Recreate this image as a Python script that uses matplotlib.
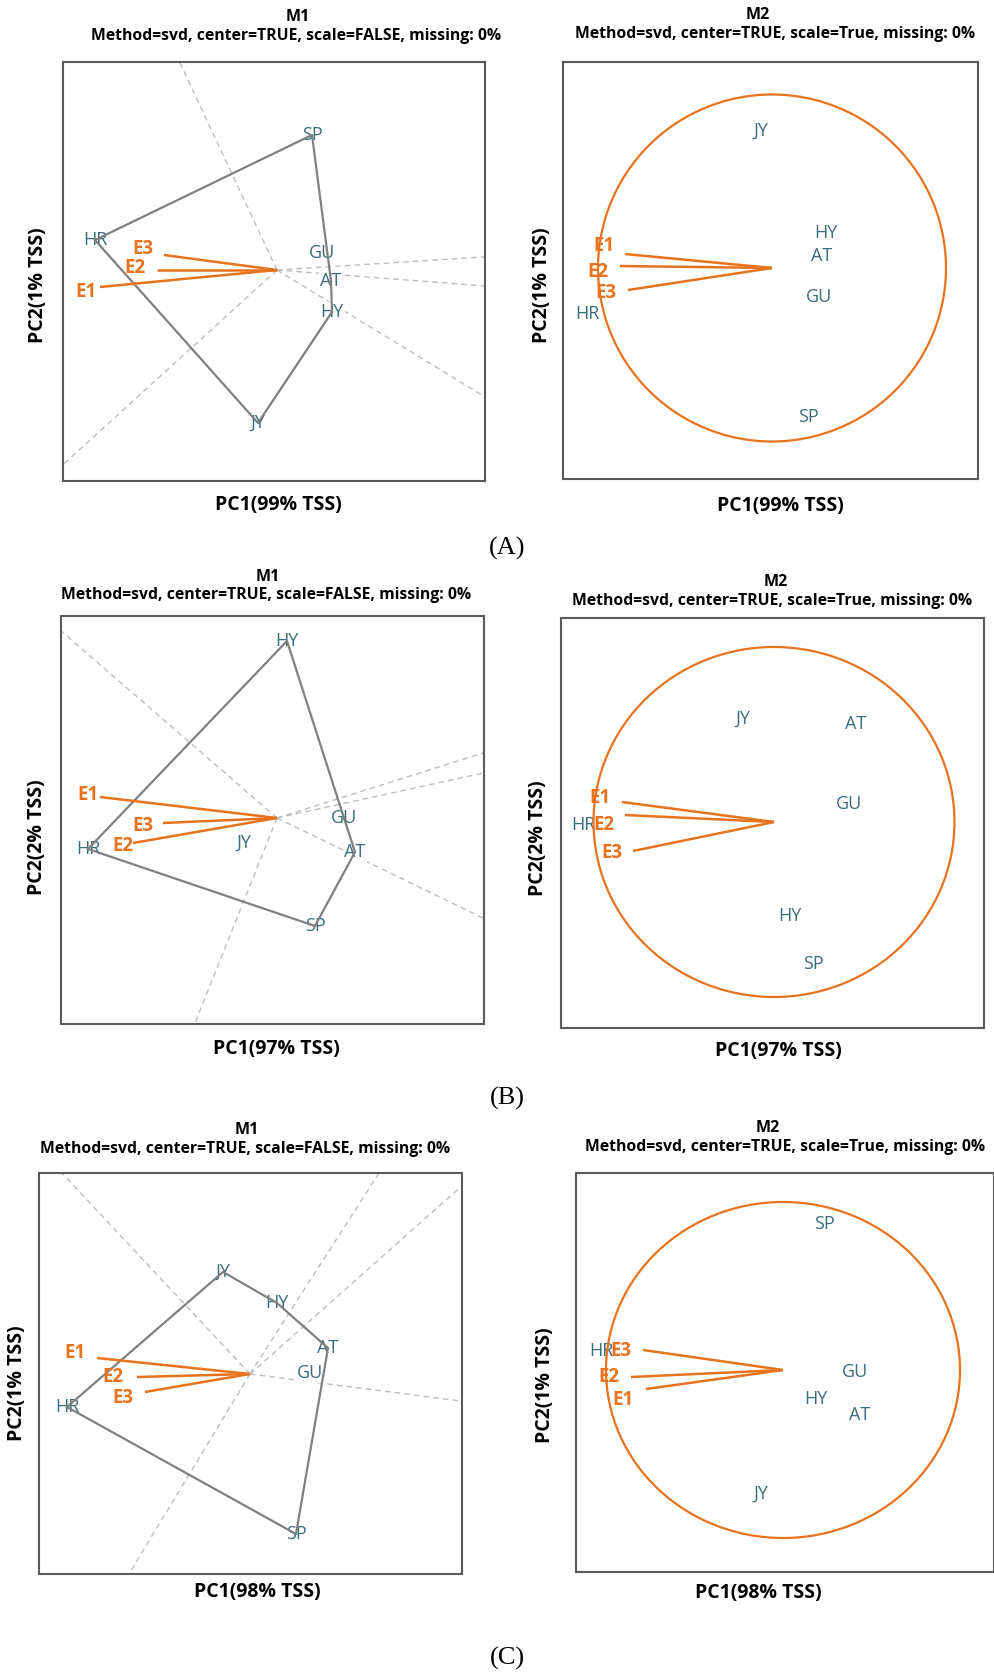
import numpy as np
import matplotlib
matplotlib.use("Agg")
import matplotlib.pyplot as plt
from matplotlib.patches import Ellipse

plt.rcParams['font.family'] = ['Open Sans', 'DejaVu Sans']

# ---------------- data (biplot scores) ----------------
genotypes = ["AT", "GU", "HR", "HY", "JY", "SP"]
environments = ["E1", "E2", "E3"]

# Row A
A1_gen_x = [0.54, 0.45, -1.82, 0.55, -0.19, 0.35]
A1_gen_y = [-0.11, 0.17, 0.30, -0.42, -1.53, 1.35]
A1_env_x = [-1.77, -1.20, -1.13]
A1_env_y = [-0.17, 0.00, 0.15]
A1_envlab_x = [-1.91, -1.42, -1.34]
A1_envlab_y = [-0.22, 0.02, 0.21]
A1_hull = ["HR", "SP", "AT", "HY", "JY"]
A1_rays = [115.1, 222.3, 3.6, -4.4, -31.4]

A2_gen_x = [0.50, 0.47, -1.85, 0.54, -0.11, 0.36]
A2_gen_y = [0.12, -0.29, -0.46, 0.35, 1.37, -1.49]
A2_env_x = [-1.47, -1.52, -1.44]
A2_env_y = [0.14, 0.02, -0.22]
A2_envlab_x = [-1.68, -1.74, -1.66]
A2_envlab_y = [0.22, -0.04, -0.25]
A2_circle = (3.48, 3.47)

# Row B
B1_gen_x = [0.78, 0.67, -1.89, 0.10, -0.33, 0.38]
B1_gen_y = [-0.34, 0.00, -0.31, 1.77, -0.25, -1.08]
B1_env_x = [-1.77, -1.44, -1.14]
B1_env_y = [0.21, -0.25, -0.05]
B1_envlab_x = [-1.89, -1.54, -1.34]
B1_envlab_y = [0.23, -0.28, -0.08]
B1_hull = ["HR", "HY", "GU", "AT", "SP"]
B1_rays = [139.1, -25.9, 17.5, 12.3, -111.8]

B2_gen_x = [0.82, 0.75, -1.91, 0.16, -0.31, 0.39]
B2_gen_y = [0.98, 0.18, -0.03, -0.94, 1.03, -1.42]
B2_env_x = [-1.52, -1.49, -1.41]
B2_env_y = [0.20, 0.07, -0.29]
B2_envlab_x = [-1.74, -1.70, -1.62]
B2_envlab_y = [0.24, -0.03, -0.31]
B2_circle = (3.61, 3.50)

# Row C
C1_gen_x = [0.78, 0.60, -1.83, 0.27, -0.27, 0.46]
C1_gen_y = [0.26, 0.01, -0.33, 0.71, 1.02, -1.60]
C1_env_x = [-1.53, -1.13, -1.05]
C1_env_y = [0.16, -0.03, -0.18]
C1_envlab_x = [-1.75, -1.37, -1.27]
C1_envlab_y = [0.21, -0.03, -0.24]
C1_hull = ["HR", "JY", "HY", "AT", "SP"]
C1_rays = [133.1, 57.3, 41.6, -7.3, -121.2]

C2_gen_x = [0.77, 0.72, -1.82, 0.33, -0.22, 0.41]
C2_gen_y = [-0.45, -0.02, 0.19, -0.29, -1.24, 1.46]
C2_env_x = [-1.37, -1.52, -1.40]
C2_env_y = [-0.19, -0.07, 0.20]
C2_envlab_x = [-1.60, -1.74, -1.62]
C2_envlab_y = [-0.30, -0.07, 0.19]
C2_circle = (3.54, 3.36)

pc1_var = [99, 97, 98]
pc2_var = [1, 2, 1]
row_labels = ["(A)", "(B)", "(C)"]
sub_M1 = "Method=svd, center=TRUE, scale=FALSE, missing: 0%"
sub_M2 = "Method=svd, center=TRUE, scale=True, missing: 0%"

# ---------------- styling / layout ----------------
W, H = 995, 1673
TEAL = "#3c6d7d"
ORANGE = "#e8731e"
GRAY = "#808080"
RAYC = "#bdbdbd"

fig = plt.figure(figsize=(W / 100, H / 100), dpi=100)


def fx(px):
    return px / W


def fy(py):
    return 1 - py / H


def make_axes(box, origin):
    L, T, R, B = box
    ox, oy = origin
    ax = fig.add_axes([fx(L), fy(B), (R - L) / W, (B - T) / H])
    ax.set_xlim((L - ox) / 100, (R - ox) / 100)
    ax.set_ylim((oy - B) / 100, (oy - T) / 100)
    ax.set_xticks([])
    ax.set_yticks([])
    for s in ax.spines.values():
        s.set_color("#5a5a5a")
        s.set_linewidth(1.5)
    return ax


def headings(title, sub, tpos, spos, xpos, ypos, pc1, pc2):
    fig.text(fx(tpos[0]), fy(tpos[1]), title, ha="center", va="center",
             fontsize=11.5, fontweight="bold")
    fig.text(fx(spos[0]), fy(spos[1]), sub, ha="center", va="center",
             fontsize=11.3, fontweight="bold")
    fig.text(fx(xpos[0]), fy(xpos[1]), f"PC1({pc1}% TSS)", ha="center",
             va="center", fontsize=14, fontweight="bold")
    fig.text(fx(ypos[0]), fy(ypos[1]), f"PC2({pc2}% TSS)", ha="center",
             va="center", fontsize=14, fontweight="bold", rotation=90)


def draw_env(ax, ex, ey, lx, ly):
    for name, x, y, tx, ty in zip(environments, ex, ey, lx, ly):
        ax.plot([0, x], [0, y], color=ORANGE, lw=1.8, zorder=5,
                solid_capstyle="butt")
        ax.text(tx, ty, name, color=ORANGE, fontsize=13.5, fontweight="bold",
                ha="center", va="center", zorder=6)


def draw_gen(ax, gx, gy):
    for name, x, y in zip(genotypes, gx, gy):
        ax.text(x, y, name, color=TEAL, fontsize=13, ha="center",
                va="center", zorder=3,
                bbox=dict(facecolor="white", edgecolor="none", pad=1.0))


def panel_m1(box, origin, gx, gy, ex, ey, lx, ly, hull, rays):
    ax = make_axes(box, origin)
    for ang in rays:
        a = np.deg2rad(ang)
        ax.plot([0, 10 * np.cos(a)], [0, 10 * np.sin(a)], color=RAYC,
                lw=1.0, ls=(0, (4, 3)), zorder=1)
    draw_gen(ax, gx, gy)
    idx = [genotypes.index(h) for h in hull] + [genotypes.index(hull[0])]
    ax.plot([gx[i] for i in idx], [gy[i] for i in idx], color=GRAY, lw=1.6,
            zorder=4)
    draw_env(ax, ex, ey, lx, ly)
    return ax


def panel_m2(box, origin, gx, gy, ex, ey, lx, ly, circ):
    ax = make_axes(box, origin)
    draw_gen(ax, gx, gy)
    ax.add_patch(Ellipse((0, 0), circ[0], circ[1], fill=False,
                         edgecolor=ORANGE, lw=1.6, zorder=7))
    draw_env(ax, ex, ey, lx, ly)
    return ax


# Row A
panel_m1((63, 62, 485, 481), (277, 270), A1_gen_x, A1_gen_y, A1_env_x,
         A1_env_y, A1_envlab_x, A1_envlab_y, A1_hull, A1_rays)
headings("M1", sub_M1, (298, 17), (296, 36), (278, 505), (38, 285),
         pc1_var[0], pc2_var[0])
panel_m2((563, 62, 978, 479), (772, 268), A2_gen_x, A2_gen_y, A2_env_x,
         A2_env_y, A2_envlab_x, A2_envlab_y, A2_circle)
headings("M2", sub_M2, (758, 15), (775, 34), (780, 506), (542, 285),
         pc1_var[0], pc2_var[0])

# Row B
panel_m1((61, 616, 484, 1024), (277, 818), B1_gen_x, B1_gen_y, B1_env_x,
         B1_env_y, B1_envlab_x, B1_envlab_y, B1_hull, B1_rays)
headings("M1", sub_M1, (268, 577), (266, 595), (276, 1049), (37, 837),
         pc1_var[1], pc2_var[1])
panel_m2((561, 618, 984, 1028), (774, 822), B2_gen_x, B2_gen_y, B2_env_x,
         B2_env_y, B2_envlab_x, B2_envlab_y, B2_circle)
headings("M2", sub_M2, (776, 582), (772, 601), (778, 1051), (538, 838),
         pc1_var[1], pc2_var[1])

# Row C
panel_m1((39, 1173, 462, 1574), (250, 1374), C1_gen_x, C1_gen_y, C1_env_x,
         C1_env_y, C1_envlab_x, C1_envlab_y, C1_hull, C1_rays)
headings("M1", sub_M1, (247, 1130), (245, 1149), (257, 1592), (17, 1383),
         pc1_var[2], pc2_var[2])
panel_m2((576, 1173, 994, 1572), (783, 1370), C2_gen_x, C2_gen_y, C2_env_x,
         C2_env_y, C2_envlab_x, C2_envlab_y, C2_circle)
headings("M2", sub_M2, (768, 1128), (785, 1147), (758, 1593), (545, 1385),
         pc1_var[2], pc2_var[2])

for lab, py in zip(row_labels, [548, 1098, 1658]):
    fig.text(fx(507), fy(py), lab, ha="center", va="center", fontsize=19,
             family="Liberation Serif")

fig.savefig("out.png", dpi=100, facecolor="white")
